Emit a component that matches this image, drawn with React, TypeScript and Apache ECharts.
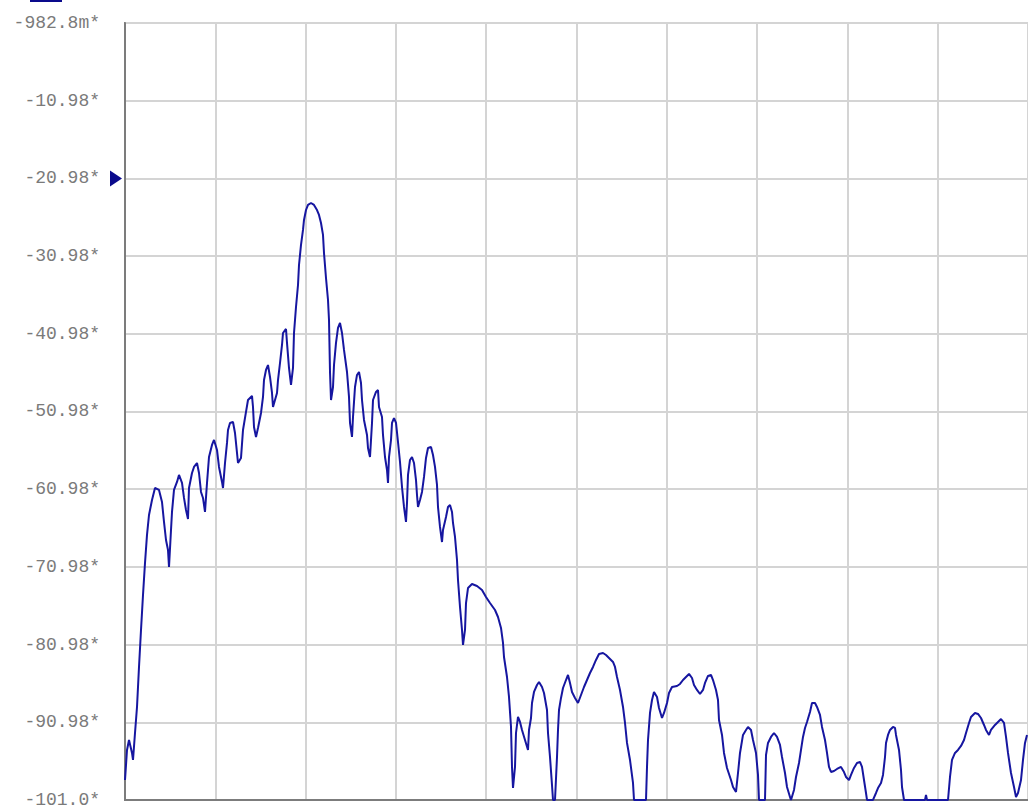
import React, { useEffect, useRef } from "react";
import * as echarts from "echarts";

// Vertical scale (dB): 10 divisions of 10 dB, reference level marked by the arrow
const Y_TOP = -0.9828;
const Y_BOTTOM = -100.9828;
const Y_STEP = 10;
const REF_LEVEL = -20.9828;

// Horizontal scale: trace points across 10 divisions
const X_MIN = 0;
const X_MAX = 903;
const X_STEP = 90.3;

// Trace position (points) and magnitude (dB)
const traceX = [
  0, 2, 4, 7, 8, 10, 12, 14, 16, 18, 20, 22, 24, 27, 30, 34, 37, 39, 41, 43,
  44, 46, 47, 49, 52, 54, 57, 59, 61, 63, 64, 67, 69, 72, 74, 76, 78, 80, 82, 84,
  87, 89, 92, 94, 97, 98, 100, 102, 103, 105, 108, 110, 112, 113, 116, 118, 121, 123, 127, 128,
  129, 131, 133, 136, 138, 139, 141, 143, 145, 147, 148, 150, 152, 153, 155, 157, 158, 161, 162, 164,
  166, 168, 169, 171, 173, 174, 176, 178, 179, 181, 183, 186, 189, 192, 194, 196, 198, 199, 201, 203,
  204, 205, 206, 208, 209, 211, 213, 215, 217, 219, 222, 224, 225, 227, 228, 230, 232, 234, 236, 237,
  239, 242, 243, 245, 247, 248, 251, 253, 254, 257, 258, 260, 262, 263, 264, 266, 267, 269, 271, 273,
  275, 277, 279, 281, 282, 283, 285, 287, 289, 291, 292, 293, 295, 297, 299, 301, 303, 306, 308, 310,
  312, 313, 315, 317, 318, 321, 323, 325, 327, 328, 330, 332, 333, 335, 337, 338, 340, 341, 343, 347,
  352, 357, 361, 365, 370, 373, 376, 378, 379, 382, 384, 386, 387, 388, 390, 391, 393, 395, 397, 400,
  403, 404, 406, 407, 409, 412, 414, 417, 419, 422, 423, 425, 427, 428, 430, 432, 433, 434, 436, 438,
  441, 443, 445, 447, 450, 453, 456, 459, 462, 465, 468, 471, 474, 478, 481, 484, 488, 490, 492, 495,
  498, 500, 502, 505, 508, 509, 521, 522, 523, 525, 527, 529, 532, 534, 537, 539, 542, 544, 547, 552,
  555, 558, 561, 564, 567, 569, 572, 575, 578, 580, 583, 586, 588, 591, 593, 594, 597, 599, 602, 606,
  608, 611, 613, 615, 618, 621, 623, 626, 628, 631, 633, 634, 640, 641, 643, 646, 649, 652, 655, 657,
  660, 662, 665, 666, 669, 671, 674, 676, 678, 680, 682, 685, 687, 690, 692, 695, 697, 700, 702, 704,
  706, 709, 712, 716, 719, 721, 724, 726, 729, 732, 735, 737, 739, 741, 742, 748, 751, 753, 756, 758,
  760, 761, 763, 765, 768, 770, 771, 774, 776, 777, 779, 800, 801, 802, 823, 825, 827, 830, 833, 836,
  839, 841, 844, 846, 850, 853, 856, 859, 861, 864, 866, 870, 873, 876, 879, 881, 883, 886, 889, 891,
  893, 896, 898, 900, 902,
];

const traceDb = [
  -98.41, -94.54, -93.26, -94.93, -95.83, -92.36, -89.01, -83.86, -79.10, -74.60, -70.48, -66.87, -64.30, -62.37, -60.83, -61.08, -62.63, -65.20, -67.52, -68.80,
  -70.99, -66.23, -63.91, -61.08, -60.05, -59.15, -60.18, -62.11, -63.66, -64.82, -60.83, -58.90, -58.12, -57.61, -58.90, -61.34, -62.11, -63.91, -60.18, -56.84,
  -55.29, -54.65, -55.93, -58.12, -60.05, -60.83, -57.61, -55.03, -53.36, -52.46, -52.33, -53.75, -56.32, -57.61, -56.96, -53.36, -51.04, -49.50, -48.98, -50.40,
  -52.97, -54.26, -53.10, -51.17, -49.11, -46.93, -45.64, -45.00, -46.54, -48.60, -50.40, -49.50, -48.60, -46.93, -44.74, -42.42, -40.88, -40.36, -42.16, -45.38,
  -47.57, -45.38, -40.88, -37.53, -34.70, -32.13, -29.55, -27.62, -26.33, -25.05, -24.40, -24.15, -24.40, -25.05, -25.69, -26.72, -28.26, -30.58, -33.80, -36.63,
  -39.20, -45.90, -49.50, -47.83, -45.00, -42.16, -40.23, -39.59, -40.88, -43.06, -45.90, -49.11, -52.46, -54.26, -51.69, -47.83, -46.28, -45.90, -47.31, -49.50,
  -52.07, -54.00, -55.68, -56.84, -52.46, -49.50, -48.47, -48.21, -50.40, -51.69, -54.00, -56.84, -58.51, -60.18, -56.84, -54.65, -52.46, -51.82, -52.46, -54.91,
  -57.48, -60.70, -63.27, -65.20, -62.76, -59.15, -57.22, -56.84, -57.61, -59.80, -61.73, -63.27, -62.37, -61.34, -59.41, -56.96, -55.68, -55.55, -56.58, -58.12,
  -60.44, -63.27, -65.84, -67.78, -66.23, -64.56, -63.27, -63.01, -63.91, -65.33, -67.13, -70.09, -72.67, -76.14, -79.10, -81.03, -79.10, -75.63, -73.70, -73.18,
  -73.44, -73.95, -74.85, -75.63, -76.53, -77.43, -78.84, -80.77, -82.58, -85.15, -87.72, -91.58, -96.73, -99.44, -96.73, -92.36, -90.30, -90.94, -91.97, -93.26,
  -94.54, -91.97, -90.43, -88.50, -87.08, -86.18, -85.79, -86.44, -87.21, -89.40, -92.36, -95.45, -99.05, -100.98, -100.98, -95.45, -91.97, -89.40, -87.85, -86.57,
  -85.54, -84.89, -85.92, -87.08, -87.85, -88.50, -87.47, -86.44, -85.54, -84.64, -83.86, -82.96, -82.19, -82.06, -82.32, -82.70, -83.22, -83.86, -85.15, -86.82,
  -89.01, -91.07, -93.64, -95.83, -98.79, -100.98, -100.98, -96.73, -93.26, -89.78, -88.11, -87.08, -87.72, -89.14, -90.43, -89.78, -88.50, -87.21, -86.44, -86.31,
  -86.05, -85.54, -85.15, -84.76, -85.28, -86.18, -86.82, -87.34, -86.82, -85.92, -85.02, -84.89, -85.54, -86.82, -88.11, -90.68, -92.61, -94.93, -96.86, -98.41,
  -99.31, -99.95, -97.51, -94.93, -92.61, -91.97, -91.58, -91.97, -93.26, -94.93, -97.76, -100.98, -100.98, -95.19, -93.64, -92.87, -92.36, -92.87, -93.90, -95.45,
  -97.51, -99.31, -100.59, -100.98, -99.69, -98.02, -96.22, -94.54, -92.87, -91.71, -90.94, -89.65, -88.50, -88.50, -89.01, -90.04, -91.58, -93.26, -94.93, -96.73,
  -97.38, -97.25, -96.99, -96.73, -97.38, -98.02, -98.41, -97.76, -96.86, -96.22, -96.09, -96.73, -98.41, -100.08, -100.98, -100.98, -100.08, -99.44, -98.79, -97.76,
  -95.45, -93.64, -92.61, -91.97, -91.58, -91.71, -92.61, -94.54, -97.12, -99.31, -100.98, -100.98, -100.34, -100.98, -100.98, -98.02, -95.83, -94.93, -94.54, -94.03,
  -93.26, -92.36, -91.07, -90.30, -89.78, -89.91, -90.43, -91.33, -91.97, -92.61, -91.97, -91.33, -90.94, -90.56, -91.07, -92.87, -94.93, -97.51, -99.31, -100.59,
  -100.08, -98.41, -95.83, -93.64, -92.61,
];

const TRACE_COLOR = "#1616a0";
const MARKER_COLOR = "#0a0a8c";
const LABEL_GREY = "#7a7a7a";

// 4-significant-digit engineering style, e.g. -982.8m, -10.98, -101.0
function fmtLevel(v: number): string {
  if (Math.abs(v) < 1) return (v * 1000).toPrecision(4) + "m*";
  return v.toPrecision(4) + "*";
}

export default function App() {
  const ref = useRef<HTMLDivElement>(null);

  useEffect(() => {
    if (!ref.current) return;
    const chart = echarts.init(ref.current, null, { renderer: "svg" });
    const points = traceX.map((x, i) => [x, traceDb[i]]);
    const isRef = (v: number) => Math.abs(v - REF_LEVEL) < 1e-6;

    chart.setOption({
      animation: false,
      backgroundColor: "#ffffff",
      grid: {
        left: 125,
        top: 23,
        right: 0,
        bottom: 10,
        show: true,
        borderColor: "#8c8c8c",
        borderWidth: 2,
        backgroundColor: "#ffffff",
      },
      xAxis: {
        type: "value",
        min: X_MIN,
        max: X_MAX,
        interval: X_STEP,
        axisLine: { show: true, lineStyle: { color: "#7c7c7c", width: 2 } },
        axisTick: { show: false },
        axisLabel: { show: false },
        splitLine: { show: true, lineStyle: { color: "#d4d4d4", width: 2 } },
      },
      yAxis: {
        type: "value",
        min: Y_BOTTOM,
        max: Y_TOP,
        interval: Y_STEP,
        axisLine: { show: true, lineStyle: { color: "#7c7c7c", width: 2 } },
        axisTick: { show: false },
        axisLabel: {
          show: true,
          margin: 25,
          fontFamily: "Liberation Mono",
          fontSize: 18,
          formatter: (v: number) => fmtLevel(v),
          color: (v: any) => (isRef(Number(v)) ? "#2222a8" : LABEL_GREY),
        },
        splitLine: { show: true, lineStyle: { color: "#d4d4d4", width: 2 } },
      },
      series: [
        {
          type: "line",
          data: points,
          showSymbol: false,
          symbol: "none",
          lineStyle: { color: TRACE_COLOR, width: 2 },
          clip: true,
        },
      ],
    });

    // Reference-level arrow placed on the scale at REF_LEVEL
    const py = chart.convertToPixel({ yAxisIndex: 0 }, REF_LEVEL) as number;
    const axisX = chart.convertToPixel({ xAxisIndex: 0 }, X_MIN) as number;
    chart.setOption({
      graphic: [
        {
          type: "polygon",
          shape: {
            points: [
              [axisX - 15, py - 8],
              [axisX - 3, py],
              [axisX - 15, py + 8],
            ],
          },
          style: { fill: MARKER_COLOR },
        },
        {
          type: "rect",
          shape: { x: 30, y: 0, width: 32, height: 2 },
          style: { fill: MARKER_COLOR },
        },
      ],
    });

    return () => chart.dispose();
  }, []);

  return (
    <div
      ref={ref}
      style={{ position: "fixed", left: 0, top: 0, width: 1028, height: 810, background: "#ffffff" }}
    />
  );
}
